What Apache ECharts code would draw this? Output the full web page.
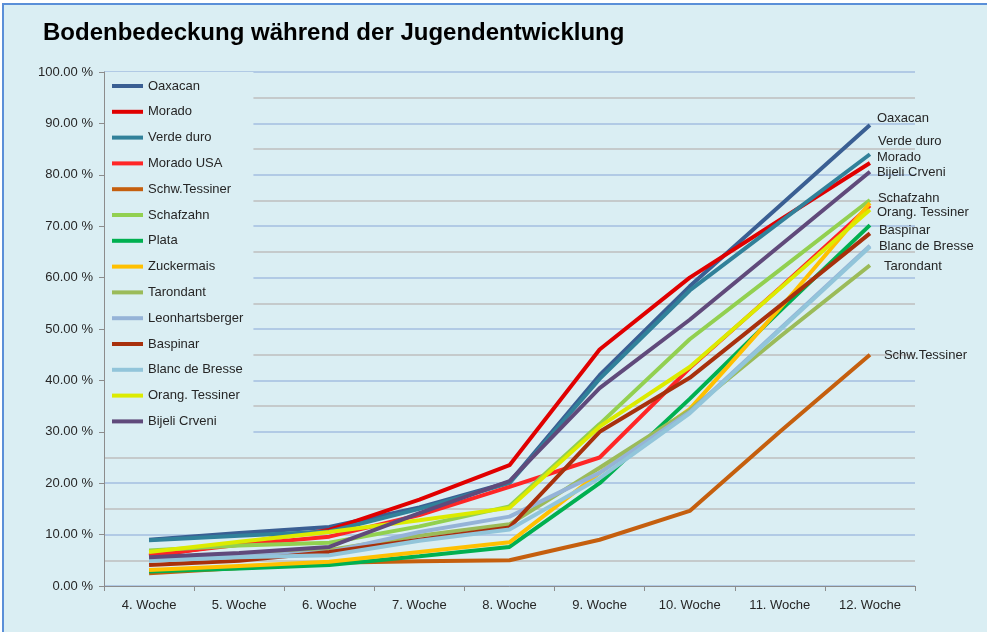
<!DOCTYPE html>
<html>
<head>
<meta charset="utf-8">
<script src="https://cdn.jsdelivr.net/npm/echarts@6/dist/echarts.min.js"></script>
<style>
  html, body { margin: 0; padding: 0; background: #fff; overflow: hidden; }
  .wrap { position: relative; width: 987px; height: 632px; overflow: hidden; }
  .bg { position: absolute; left: 2px; top: 3px; width: 1000px; height: 700px;
        background: #DAEEF3; border: 2px solid #5A8FD8; }
  #chart { position: absolute; left: 0; top: 0; width: 987px; height: 632px; }
</style>
</head>
<body>
<div class="wrap">
  <div class="bg"></div>
  <div id="chart"></div>
</div>
<script>
// Wochen
const weeks = ['4. Woche', '5. Woche', '6. Woche', '7. Woche', '8. Woche', '9. Woche', '10. Woche', '11. Woche', '12. Woche']

// Bodenbedeckung in %
const oaxacan        = [9.0, 10.3, 11.5, 15.3, 20.2, 41.0, 58.3, 74.0, 89.7]
const morado         = [5.8, 8.3, 10.9, 16.8, 23.5, 46.0, 60.0, 71.2, 82.3]
const verdeDuro      = [8.9, 9.8, 10.6, 15.0, 20.0, 40.3, 57.5, 70.8, 84.0]
const moradoUSA      = [6.0, 8.0, 9.6, 13.8, 19.3, 25.0, 42.4, 58.0, 74.0]
const schwTessiner   = [2.5, 3.5, 4.5, 4.8, 5.0, 9.0, 14.6, 30.0, 45.0]
const schafzahn      = [6.9, 7.9, 8.4, 11.6, 15.5, 31.5, 48.0, 61.5, 75.1]
const plata          = [2.8, 3.4, 4.1, 5.8, 7.6, 20.0, 36.4, 53.5, 70.2]
const zuckermais     = [3.1, 3.9, 4.7, 6.6, 8.5, 22.0, 34.4, 54.0, 74.5]
const tarondant      = [5.5, 6.2, 7.0, 9.8, 12.0, 23.0, 34.2, 48.5, 62.4]
const leonhartsberger = [5.0, 5.8, 6.6, 10.5, 13.5, 22.0, 33.8, 50.0, 66.2]
const baspinar       = [4.1, 4.9, 6.6, 9.0, 11.4, 30.0, 40.5, 54.5, 68.6]
const blancDeBresse  = [4.9, 5.6, 6.0, 8.8, 11.0, 21.0, 33.6, 49.8, 66.0]
const orangTessiner  = [6.6, 8.6, 10.5, 12.8, 15.2, 31.0, 42.6, 57.9, 73.2]
const bijeliCrveni   = [5.6, 6.4, 7.6, 14.2, 20.4, 38.5, 51.8, 66.2, 80.6]

const fontFamily = 'Liberation Sans'

// name, data, colour, end label offset (null = kein Label)
const sorten = [
    ['Oaxacan', oaxacan, '#3A5F93', [2, -7]],
    ['Morado', morado, '#E00000', [2, -6]],
    ['Verde duro', verdeDuro, '#31819A', [3, -13]],
    ['Morado USA', moradoUSA, '#FF2626', null],
    ['Schw.Tessiner', schwTessiner, '#C55F0E', [9, 1]],
    ['Schafzahn', schafzahn, '#92D050', [3, -2]],
    ['Plata', plata, '#00B050', null],
    ['Zuckermais', zuckermais, '#FFC000', null],
    ['Tarondant', tarondant, '#9BBB59', [9, 1]],
    ['Leonhartsberger', leonhartsberger, '#95B3D7', null],
    ['Baspinar', baspinar, '#A8300C', [4, -3]],
    ['Blanc de Bresse', blancDeBresse, '#92C5DA', [4, 0]],
    ['Orang. Tessiner', orangTessiner, '#DCEB00', [2, 3]],
    ['Bijeli Crveni', bijeliCrveni, '#604A7B', [2, 1]]
]

const chartInstance = echarts.init(document.getElementById('chart'))

const chartOption = {
    animation: false,
    textStyle: { fontFamily: fontFamily },
    title: {
        text: 'Bodenbedeckung während der Jugendentwicklung',
        left: 38,
        top: 16,
        textStyle: { fontFamily: fontFamily, fontSize: 24, fontWeight: 'bold', color: '#000' }
    },
    grid: { left: 104, right: 72, top: 72, bottom: 46 },
    legend: {
        orient: 'vertical',
        left: 105,
        top: 72,
        padding: [7, 10, 16, 7],
        icon: 'rect',
        itemWidth: 31,
        itemHeight: 4,
        itemGap: 11.8,
        backgroundColor: '#DAEEF3',
        textStyle: { fontFamily: fontFamily, fontSize: 13, color: '#262626', lineHeight: 14 },
        data: sorten.map(s => s[0])
    },
    xAxis: {
        type: 'category',
        data: weeks,
        boundaryGap: true,
        axisLine: { lineStyle: { color: '#8C8C8C', width: 1 } },
        axisTick: { show: true, length: 5, lineStyle: { color: '#8C8C8C' } },
        axisLabel: { fontSize: 13, color: '#262626', margin: 13, fontFamily: fontFamily }
    },
    yAxis: {
        type: 'value',
        min: 0,
        max: 100,
        interval: 10,
        axisLine: { show: true, lineStyle: { color: '#8C8C8C', width: 1 } },
        axisTick: { show: true, length: 5, lineStyle: { color: '#8C8C8C' } },
        axisLabel: {
            fontSize: 13, color: '#262626', margin: 11, fontFamily: fontFamily,
            formatter: v => v.toFixed(2) + ' %'
        },
        splitLine: { lineStyle: { color: '#A3BEE0', width: 1.5 } },
        minorTick: { show: false, splitNumber: 2 },
        minorSplitLine: { show: true, lineStyle: { color: '#BEBEBE', width: 1.5 } }
    },
    series: sorten.map(([name, data, color, off]) => ({
        name: name,
        type: 'line',
        data: data,
        symbol: 'none',
        smooth: false,
        color: color,
        lineStyle: { width: 4, color: color },
        endLabel: off ? {
            show: true,
            formatter: '{a}',
            distance: 5,
            offset: off,
            fontSize: 13,
            fontFamily: fontFamily,
            color: '#262626'
        } : { show: false }
    }))
}

chartInstance.setOption(chartOption)

window.addEventListener('resize', function () {
    chartInstance.resize()
})
</script>
</body>
</html>
